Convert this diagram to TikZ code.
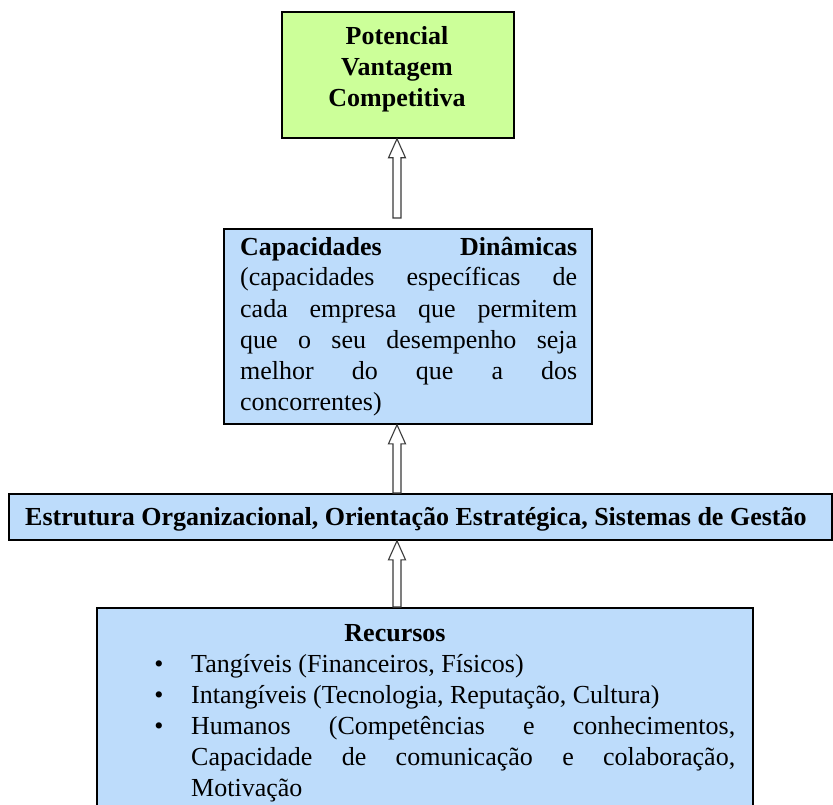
\documentclass[tikz,border=0pt]{standalone}
\usepackage{fontspec}
\setmainfont{Liberation Serif}
\usetikzlibrary{calc}

\definecolor{boxgreen}{HTML}{CCFF99}
\definecolor{boxblue}{HTML}{BDDCFB}
\definecolor{arrowline}{HTML}{3A3A3A}

\tikzset{
  panel/.style={draw=black, line width=1.8pt, rectangle, inner sep=0pt, anchor=north west},
  greenpanel/.style={panel, fill=boxgreen},
  bluepanel/.style={panel, fill=boxblue},
  label/.style={inner sep=0pt, anchor=base west, font=\fontsize{26}{31.2}\selectfont},
  boldlabel/.style={label, font=\fontsize{26}{31.2}\selectfont\bfseries},
  % hollow block arrow: shaft plus open head, tip at the target
  blockarrow/.style={draw=arrowline, fill=white, line width=1.1pt, line join=miter,
    to path={let \p1=(\tikztostart), \p2=(\tikztotarget) in
      (\x2-4pt,\y1) -- (\x2-4pt,\y2-19pt) -- (\x2-8.5pt,\y2-19pt) -- (\x2,\y2)
      -- (\x2+8.5pt,\y2-19pt) -- (\x2+4pt,\y2-19pt) -- (\x2+4pt,\y1) -- cycle}}
}

\newcommand{\jline}[2]{\makebox[#1][s]{#2}}

\begin{document}
\begin{tikzpicture}[x=1pt,y=-1pt]
\useasboundingbox (0,0) rectangle (833,805);
\clip (0,0) rectangle (833,805);

% boxes
\node[greenpanel, minimum width=232pt, minimum height=126pt] (top) at (281,11) {};
\node[bluepanel, minimum width=368pt, minimum height=195pt] (mid) at (223,228) {};
\node[bluepanel, minimum width=823pt, minimum height=46pt] (strip) at (8,493) {};
\node[bluepanel, minimum width=656pt, minimum height=260pt] (res) at (96,607) {};

% vertical axis shared by the arrows
\coordinate (axis) at (397,0);

% connectors
\draw[blockarrow] ([yshift=10pt]mid.north -| axis) to (top.south -| axis);
\draw[blockarrow] (strip.north -| axis) to (mid.south -| axis);
\draw[blockarrow] (res.north -| axis) to (strip.south -| axis);

% top box text
\node[boldlabel, anchor=base] (t1) at (397,44.5) {Potencial};
\node[boldlabel, anchor=base] (t2) at (397,75.5) {Vantagem};
\node[boldlabel, anchor=base] (t3) at (397,106.5) {Competitiva};

% middle box text
\node[boldlabel] (m1) at (240,255) {\jline{337pt}{Capacidades Dinâmicas}};
\node[label] (m2) at (240,286) {\jline{337pt}{(capacidades específicas de}};
\node[label] (m3) at (240,317) {\jline{337pt}{cada empresa que permitem}};
\node[label] (m4) at (240,348) {\jline{337pt}{que o seu desempenho seja}};
\node[label] (m5) at (240,379) {\jline{337pt}{melhor do que a dos}};
\node[label] (m6) at (240,410) {concorrentes)};

% strip text
\node[boldlabel] (s1) at (25,525) {Estrutura Organizacional, Orientação Estratégica, Sistemas de Gestão};

% resources text
\node[boldlabel, anchor=base] (r0) at (395,641) {Recursos};
\node[label, anchor=base] (b1) at (159,672) {•};
\node[label, anchor=base] (b2) at (159,703) {•};
\node[label, anchor=base] (b3) at (159,734) {•};
\node[label] (r1) at (191,672) {Tangíveis (Financeiros, Físicos)};
\node[label] (r2) at (191,703) {Intangíveis (Tecnologia, Reputação, Cultura)};
\node[label] (r3) at (191,734) {\jline{544pt}{Humanos (Competências e conhecimentos,}};
\node[label] (r4) at (191,765) {\jline{544pt}{Capacidade de comunicação e colaboração,}};
\node[label] (r5) at (191,796) {Motivação};
\end{tikzpicture}
\end{document}
